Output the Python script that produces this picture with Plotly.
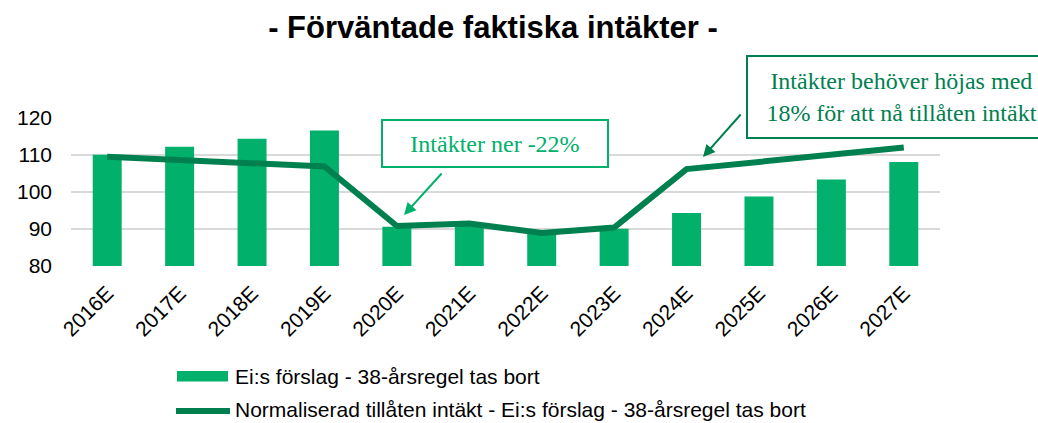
import plotly.graph_objects as go

years = ["2016E", "2017E", "2018E", "2019E", "2020E", "2021E",
         "2022E", "2023E", "2024E", "2025E", "2026E", "2027E"]
bar_values = [110.1, 112.2, 114.4, 116.6, 90.6, 91.2, 89.0, 90.1, 94.3, 98.8, 103.4, 108.1]
line_values = [109.5, 108.6, 107.8, 106.9, 90.8, 91.5, 88.9, 90.4, 106.2, 108.1, 109.8, 112.0]
y_ticks = [80, 90, 100, 110, 120]

bar_name = "Ei:s förslag - 38-årsregel tas bort"
line_name = "Normaliserad tillåten intäkt - Ei:s förslag - 38-årsregel tas bort"
title_text = "- Förväntade faktiska intäkter -"
note1 = "Intäkter ner -22%"
note2 = "Intäkter behöver höjas med<br>18% för att nå tillåten intäkt"

W, H = 1038, 423
L, R, T, B = 71, 98, 118, 157
PW, PH = W - L - R, H - T - B

BAR_C = "#00B06B"
LINE_C = "#00804F"
SANS = "Liberation Sans, Arial, sans-serif"
SERIF = "Liberation Serif, Times New Roman, serif"


def px(x):
    return (x - L) / PW


def py(y):
    return (H - B - y) / PH


fig = go.Figure()
fig.add_trace(go.Bar(x=years, y=bar_values, name=bar_name, marker_color=BAR_C,
                     marker_line_width=0, showlegend=False))
fig.add_trace(go.Scatter(x=years, y=line_values, name=line_name, mode="lines",
                         line=dict(color=LINE_C, width=6), showlegend=False))

annotations = [
    # text boxes
    dict(xref="paper", yref="paper", x=px(494.5), y=py(143), text=note1, showarrow=False,
         font=dict(family=SERIF, size=24, color=BAR_C), bordercolor=BAR_C, borderwidth=2,
         borderpad=0, width=224, height=45, bgcolor="white", xanchor="center", yanchor="middle"),
    dict(xref="paper", yref="paper", x=px(901.5), y=py(97.5), text=note2, showarrow=False,
         font=dict(family=SERIF, size=24, color=LINE_C), bordercolor=LINE_C, borderwidth=2,
         borderpad=0, width=307, height=80, bgcolor="white", xanchor="center", yanchor="middle"),
    # arrows
    dict(xref="paper", yref="paper", x=px(404), y=py(215), ax=443 - 404, ay=172 - 215,
         axref="pixel", ayref="pixel", text="", showarrow=True, arrowhead=2, arrowsize=1.2,
         arrowwidth=2, arrowcolor=BAR_C, standoff=0),
    dict(xref="paper", yref="paper", x=px(703), y=py(157), ax=742 - 703, ay=113 - 157,
         axref="pixel", ayref="pixel", text="", showarrow=True, arrowhead=2, arrowsize=1.2,
         arrowwidth=2, arrowcolor=LINE_C, standoff=0),
    # legend texts
    dict(xref="paper", yref="paper", x=px(233), y=py(376), text=bar_name, showarrow=False,
         font=dict(family=SANS, size=21, color="black"), xanchor="left", yanchor="middle"),
    dict(xref="paper", yref="paper", x=px(233), y=py(409), text=line_name, showarrow=False,
         font=dict(family=SANS, size=21, color="black"), xanchor="left", yanchor="middle"),
]

shapes = [
    dict(type="rect", xref="paper", yref="paper", x0=px(177), x1=px(228), y0=py(381.5), y1=py(371),
         fillcolor=BAR_C, line=dict(width=0)),
    dict(type="line", xref="paper", yref="paper", x0=px(176), x1=px(230), y0=py(411), y1=py(411),
         line=dict(color=LINE_C, width=6)),
]

fig.update_layout(
    width=W, height=H,
    margin=dict(l=L, r=R, t=T, b=B),
    paper_bgcolor="white", plot_bgcolor="white",
    bargap=0.6,
    showlegend=False,
    title=dict(text="<b>" + title_text + "</b>", x=493 / W, xref="container", xanchor="center",
               y=1 - 27 / H, yref="container", yanchor="middle",
               font=dict(family=SANS, size=31, color="black")),
    font=dict(family=SANS, color="black"),
    annotations=annotations,
    shapes=shapes,
)
fig.update_xaxes(tickangle=-45, tickfont=dict(family=SANS, size=21, color="black"),
                 showgrid=False, showline=False, ticks="", ticklabelstandoff=10)
fig.update_yaxes(range=[80, 120], tickvals=y_ticks, tickfont=dict(family=SANS, size=21, color="black"),
                 showgrid=True, gridcolor="#D9D9D9", gridwidth=1.5, zeroline=False,
                 showline=False, ticks="", ticklabelstandoff=18)

fig.write_html("out.html", config={"displayModeBar": False},
               post_script="document.body.style.margin='0';document.body.style.overflow='hidden';")
